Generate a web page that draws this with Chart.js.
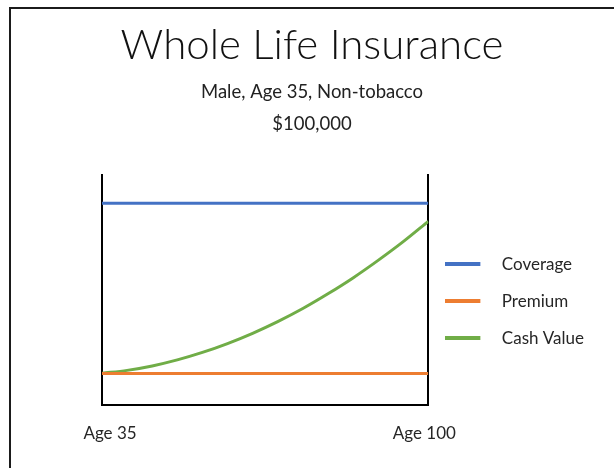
<!DOCTYPE html>
<html>
<head>
<meta charset="utf-8">
<script src="https://cdn.jsdelivr.net/npm/chart.js@4.4.1/dist/chart.umd.min.js"></script>
<style>
  html, body { margin: 0; padding: 0; background: #ffffff; }
  #wrap { position: relative; width: 614px; height: 468px; overflow: hidden; background: #ffffff; }
  #frame { position: absolute; left: 9px; top: 7px; width: 700px; height: 600px;
           border-top: 2px solid #1b1b1b; border-left: 2px solid #1b1b1b; pointer-events: none; }
  canvas { position: absolute; left: 0; top: 0; }
</style>
</head>
<body>
<div id="wrap">
  <canvas id="c" width="614" height="468"></canvas>
  <div id="frame"></div>
</div>
<script>
// ---- data ----
const ages = [35, 40, 45, 50, 55, 60, 65, 70, 75, 80, 85, 90, 95, 100];
const coverage = [100, 100, 100, 100, 100, 100, 100, 100, 100, 100, 100, 100, 100, 100];
const premium = [15.4, 15.4, 15.4, 15.4, 15.4, 15.4, 15.4, 15.4, 15.4, 15.4, 15.4, 15.4, 15.4, 15.4];
const cashValue = [15.6, 17.0, 19.2, 22.2, 25.9, 30.3, 35.4, 41.2, 47.7, 55.0, 62.9, 71.6, 80.9, 91.0];
const seriesNames = ['Coverage', 'Premium', 'Cash Value'];
const tickValues = [35, 100];
const tickLabels = ['Age 35', 'Age 100'];
const titleText = 'Whole Life Insurance';
const subtitleLines = ['Male, Age 35, Non-tobacco', '$100,000'];

const colors = ['#4472C4', '#ED7D31', '#70AD47'];
const FONT = 'Lato, "Open Sans", sans-serif';

function legendSwatch(color) {
  const cv = document.createElement('canvas');
  cv.width = 51; cv.height = 4;
  const g = cv.getContext('2d');
  g.fillStyle = color;
  g.fillRect(0, 0, 35, 4);
  return cv;
}
const swatches = colors.map(legendSwatch);

const seriesData = [coverage, premium, cashValue];
const datasets = seriesData.map((vals, i) => ({
  label: seriesNames[i],
  data: ages.map((a, j) => ({ x: a, y: vals[j] })),
  borderColor: colors[i],
  backgroundColor: colors[i],
  borderWidth: 3,
  pointRadius: 0,
  pointHoverRadius: 0,
  cubicInterpolationMode: 'monotone',
  fill: false
}));

new Chart(document.getElementById('c'), {
  type: 'line',
  data: { datasets },
  options: {
    responsive: false,
    animation: false,
    events: [],
    layout: { padding: { left: 30, right: 20, top: 0, bottom: 5 } },
    scales: {
      x: {
        type: 'linear',
        min: 35, max: 100,
        ticks: { display: false },
        grid: { display: false, drawTicks: false },
        border: { display: true, color: '#000000', width: 2 }
      },
      xLabels: {
        type: 'linear',
        position: 'bottom',
        min: 33.34, max: 100.83,
        afterBuildTicks: (axis) => { axis.ticks = tickValues.map(v => ({ value: v })); },
        ticks: {
          autoSkip: false,
          maxRotation: 0,
          padding: 19,
          color: '#262626',
          font: { family: FONT, size: 17 },
          callback: (v) => { const k = tickValues.indexOf(v); return k >= 0 ? tickLabels[k] : ''; }
        },
        grid: { display: false, drawTicks: false },
        border: { display: false }
      },
      y: {
        min: 0, max: 114,
        afterFit: (axis) => { axis.width = 72; },
        ticks: { display: false },
        grid: { display: false, drawTicks: false },
        border: { display: true, color: '#000000', width: 2 }
      },
      y2: {
        position: 'right',
        min: 0, max: 114,
        ticks: { display: false },
        grid: { display: false, drawTicks: false },
        border: { display: true, color: '#000000', width: 2 }
      }
    },
    plugins: {
      tooltip: { enabled: false },
      title: {
        display: true,
        text: titleText,
        color: '#111111',
        font: { family: FONT, size: 42, weight: '300', lineHeight: 1.2 },
        padding: { top: 20, bottom: 0 }
      },
      subtitle: {
        display: true,
        text: subtitleLines,
        color: '#222222',
        font: { family: FONT, size: 18.5, weight: 'normal', lineHeight: 1.7297 },
        padding: { top: 5.6, bottom: 35 }
      },
      legend: {
        display: true,
        position: 'right',
        fullSize: false,
        align: 'center',
        maxWidth: 240,
        title: { display: true, text: ' ', font: { size: 10, lineHeight: 1.2 }, padding: { top: 11, bottom: 0 } },
        labels: {
          usePointStyle: true,
          pointStyleWidth: 45,
          boxHeight: 4,
          padding: 20,
          color: '#262626',
          font: { family: FONT, size: 17 },
          generateLabels: (chart) => {
            const items = Chart.defaults.plugins.legend.labels.generateLabels(chart);
            return items.map((it) => Object.assign(it, { pointStyle: swatches[it.datasetIndex] }));
          }
        }
      }
    }
  }
});
</script>
</body>
</html>
